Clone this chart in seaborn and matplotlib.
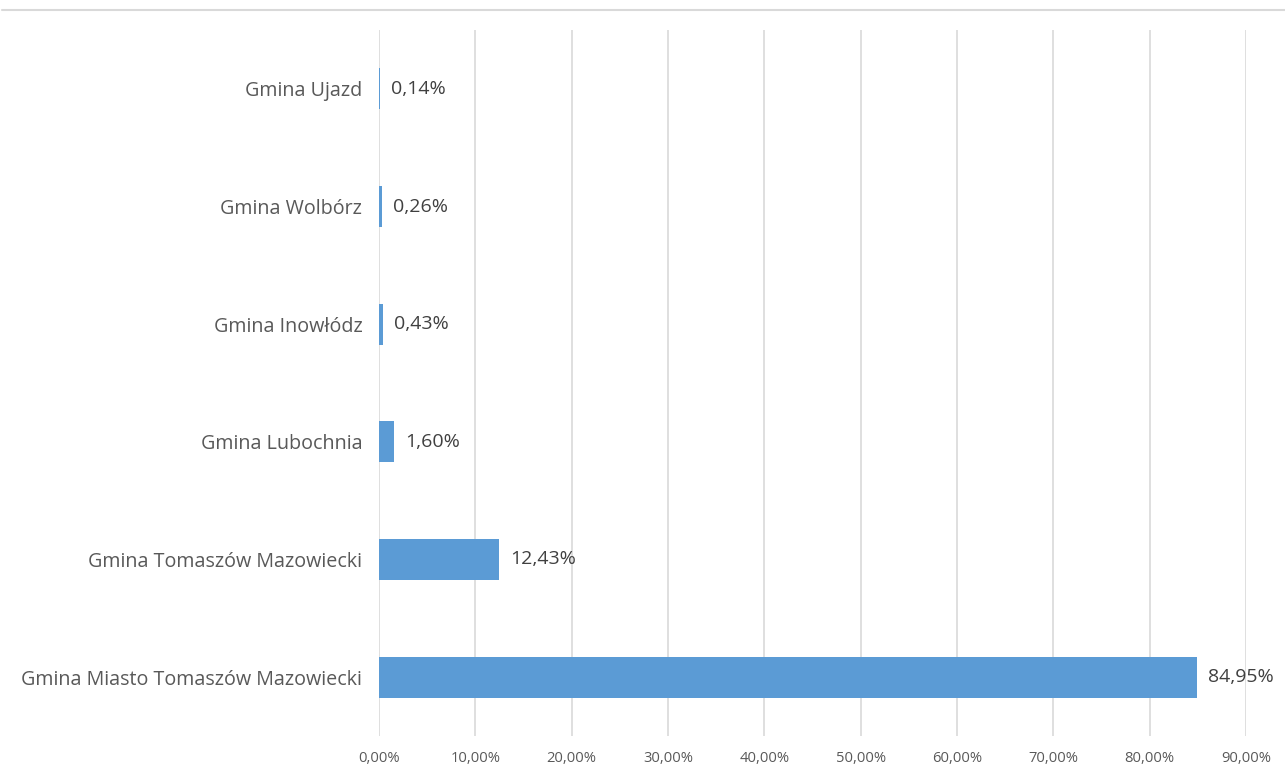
import pandas as pd
import numpy as np
import matplotlib
matplotlib.use("Agg")
import matplotlib.pyplot as plt
import seaborn as sns
from matplotlib.ticker import FuncFormatter, MultipleLocator
from matplotlib.lines import Line2D

# data (top to bottom as shown)
gminy=["Gmina Ujazd","Gmina Wolbórz","Gmina Inowłódz","Gmina Lubochnia",
       "Gmina Tomaszów Mazowiecki","Gmina Miasto Tomaszów Mazowiecki"]
udzial=[0.14,0.26,0.43,1.60,12.43,84.95]

data=pd.DataFrame({"Gmina":gminy,"Udzial":udzial})

sns.set_style("white")
plt.rcParams['font.family']=['Open Sans','DejaVu Sans']

fig=plt.figure(figsize=(12.85,7.71),dpi=100)
ax=fig.add_axes([379/1285,1-736/771,(1246-379)/1285,(736-30)/771])

sns.barplot(data=data,y="Gmina",x="Udzial",orient="h",color="#5B9BD5",
            saturation=1,width=0.35,linewidth=0,ax=ax)

ax.set_xlim(0,90)
ax.set_ylim(5.5,-0.5)
ax.xaxis.set_major_locator(MultipleLocator(10))
ax.xaxis.set_major_formatter(FuncFormatter(lambda v,p:f"{v:.2f}%".replace(".",",")))
ax.grid(axis="x",color="#d9d9d9",linewidth=1.2)
ax.set_axisbelow(True)
for s in ax.spines.values():
    s.set_visible(False)
ax.set_xlabel("")
ax.set_ylabel("")
ax.tick_params(axis="x",length=0,labelsize=10.6,labelcolor="#595959",pad=11)
ax.tick_params(axis="y",length=0,labelsize=14.2,labelcolor="#595959",pad=12)

# data labels
for i,v in enumerate(udzial):
    ax.annotate(f"{v:.2f}%".replace(".",","),xy=(v,i),xytext=(8,0),
                textcoords="offset points",va="center",ha="left",
                fontsize=14,color="#404040")

# top border line
fig.add_artist(Line2D([2/1285,1],[1-10/771,1-10/771],color="#d9d9d9",linewidth=1.5))

plt.savefig("out.png",dpi=100)
